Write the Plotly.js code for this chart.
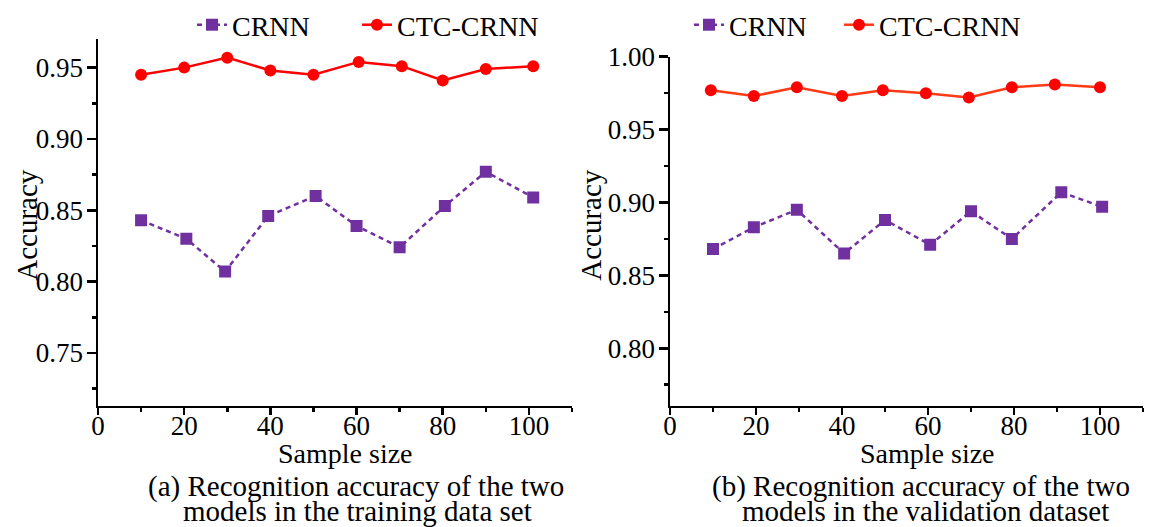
<!DOCTYPE html>
<html><head><meta charset="utf-8">
<script src="https://cdn.plot.ly/plotly-3.0.1.min.js"></script>
<style>html,body{margin:0;padding:0;background:#fff}#c{width:1152px;height:527px}</style>
</head><body><div id="c"></div>
<script>
// (a) training data set
const trainCrnnX = [10, 20.5, 29.5, 39.5, 50.5, 60, 70, 80.5, 90, 101];
const trainCrnnY = [0.843, 0.830, 0.807, 0.846, 0.860, 0.839, 0.824, 0.853, 0.877, 0.859];
const trainCtcX = [10, 20, 30, 40, 50, 60.5, 70.5, 80, 90, 101];
const trainCtcY = [0.945, 0.950, 0.957, 0.948, 0.945, 0.954, 0.951, 0.941, 0.949, 0.951];
// (b) validation dataset
const valCrnnX = [10, 19.5, 29.5, 40.5, 50, 60.5, 70, 79.5, 91, 100.5];
const valCrnnY = [0.868, 0.883, 0.895, 0.865, 0.888, 0.871, 0.894, 0.875, 0.907, 0.897];
const valCtcX = [9.5, 19.5, 29.5, 40, 49.5, 59.5, 69.5, 79.5, 89.5, 100];
const valCtcY = [0.977, 0.973, 0.979, 0.973, 0.977, 0.975, 0.972, 0.979, 0.981, 0.979];

const seriesNames = ['CRNN', 'CTC-CRNN'];
const xTickVals = [0, 20, 40, 60, 80, 100];
const xTitle = 'Sample size';
const yTitle = 'Accuracy';
const captionA = ['(a) Recognition accuracy of the two', 'models in the training data set'];
const captionB = ['(b) Recognition accuracy of the two', 'models in the validation dataset'];

const FONT = 'Liberation Serif, Times New Roman, serif';
const PURPLE = '#7030a0';
const RED = '#ff0000';
const RED_LINE_B = '#ff3a14';
const W = 1152, H = 527;

function crnn(x, y, xa, ya, leg) {
  return {x, y, xaxis: xa, yaxis: ya, legend: leg, name: seriesNames[0], mode: 'lines+markers', type: 'scatter',
    line: {color: PURPLE, width: 2.5, dash: '5px,4px'}, marker: {symbol: 'square', size: 12, color: PURPLE}};
}
function ctc(x, y, xa, ya, leg, lineCol) {
  return {x, y, xaxis: xa, yaxis: ya, legend: leg, name: seriesNames[1], mode: 'lines+markers', type: 'scatter',
    line: {color: lineCol, width: 2.5}, marker: {symbol: 'circle', size: 12, color: RED}};
}
const data = [
  crnn(trainCrnnX, trainCrnnY, 'x', 'y', 'legend'),
  ctc(trainCtcX, trainCtcY, 'x', 'y', 'legend2', RED),
  crnn(valCrnnX, valCrnnY, 'x2', 'y2', 'legend3'),
  ctc(valCtcX, valCtcY, 'x2', 'y2', 'legend4', RED_LINE_B)
];

function xa(l, r, anchor) {
  return {domain: [l / W, r / W], anchor, range: [0, 110], tickvals: xTickVals, ticks: 'outside',
    ticklen: 7, tickwidth: 2.5, tickcolor: '#000', showline: true, linewidth: 2.5, linecolor: '#000', showgrid: false, zeroline: false,
    minor: {dtick: 10, tick0: 0, ticks: 'outside', ticklen: 4, tickwidth: 2.5, tickcolor: '#000', showgrid: false},
    ticklabelstandoff: -13,
    tickfont: {family: FONT, size: 27, color: '#000'}};
}
function ya(b, t, range, anchor) {
  return {domain: [1 - b / H, 1 - t / H], anchor, range, dtick: 0.05, tick0: 0, tickformat: '.2f', ticks: 'outside',
    ticklen: 9, tickwidth: 2.5, tickcolor: '#000', showline: true, linewidth: 2.5, linecolor: '#000', showgrid: false, zeroline: false,
    minor: {dtick: 0.025, tick0: 0, ticks: 'outside', ticklen: 4, tickwidth: 2.5, tickcolor: '#000', showgrid: false},
    ticklabelstandoff: -2,
    tickfont: {family: FONT, size: 27, color: '#000'}};
}
function ann(text, x, y, size, extra) {
  return Object.assign({text, xref: 'paper', yref: 'paper', x: x / W, y: 1 - y / H, xanchor: 'center', yanchor: 'middle',
    showarrow: false, font: {family: FONT, size, color: '#000'}, borderpad: 0}, extra || {});
}
function legendCfg(x) {
  return {orientation: 'h', x: x / W, y: 1 + 3 / H, xanchor: 'left', yanchor: 'top', bgcolor: 'rgba(0,0,0,0)',
    font: {family: FONT, size: 28, color: '#000'}};
}

const layout = {
  width: W, height: H, margin: {l: 0, r: 0, t: 0, b: 0}, paper_bgcolor: '#fff', plot_bgcolor: '#fff',
  font: {family: FONT, size: 27, color: '#000'}, showlegend: true,
  xaxis: xa(98, 572, 'y'),
  yaxis: ya(405, 36.3, [0.713, 0.97], 'x'),
  xaxis2: xa(670, 1143, 'y2'),
  yaxis2: ya(405, 54, [0.7606, 1.0], 'x2'),
  legend: legendCfg(192),
  legend2: legendCfg(357),
  legend3: legendCfg(689),
  legend4: legendCfg(839),
  annotations: [
    ann(xTitle, 345, 453, 28),
    ann(xTitle, 927, 453, 28),
    ann(yTitle, 27, 223, 29, {textangle: -90}),
    ann(yTitle, 591, 223, 29, {textangle: -90}),
    ann(captionA[0], 356, 486, 29),
    ann(captionA[1], 357, 511, 29),
    ann(captionB[0], 921, 486, 29),
    ann(captionB[1], 925, 511, 29)
  ]
};
Plotly.newPlot('c', data, layout, {displayModeBar: false, staticPlot: true});
</script></body></html>
